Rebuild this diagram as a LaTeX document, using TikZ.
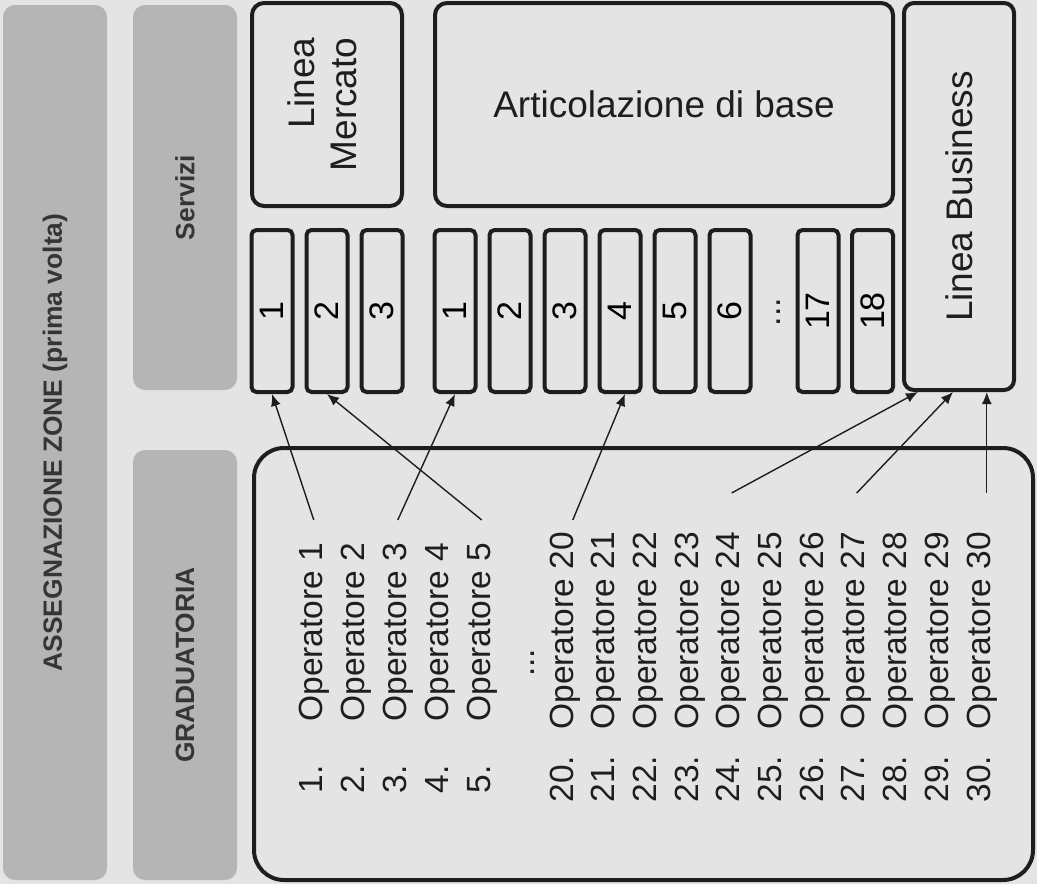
\documentclass[tikz,border=0pt]{standalone}
\usepackage{fontspec}
\setmainfont{Liberation Sans}
\usepackage{graphicx}
\usetikzlibrary{arrows.meta,calc}

\definecolor{paper}{RGB}{228,228,228}
\definecolor{panelgray}{RGB}{181,181,181}
\definecolor{ink}{RGB}{30,30,30}

\begin{document}
\begin{tikzpicture}[x=0.5pt,y=-0.5pt,
  panel/.style={fill=panelgray,rounded corners=6pt,inner sep=0pt,text=ink!90,
    font=\fontsize{13.2}{16}\selectfont\bfseries},
  frame/.style={draw=ink,line width=2pt,rounded corners=6pt,inner sep=0pt,text=ink},
  slot/.style={draw=ink,line width=2pt,rounded corners=2.5pt,inner sep=0pt,
    minimum width=20.5pt,minimum height=81pt,font=\fontsize{17}{20}\selectfont},
  optext/.style={rotate=90,anchor=base west,inner sep=0pt,text=ink,
    font=\fontsize{16.75}{20}\selectfont},
  arr/.style={-{Latex[length=6pt,width=5pt]},draw=ink,line width=0.7pt}]

% paper
\fill[paper] (0,0) rectangle (1037,884);
\useasboundingbox (0,0) rectangle (1037,884);

% grey headings
\node[panel,minimum width=52pt,minimum height=437.5pt] (assign) at (55,442.5)
  {\rotatebox{90}{ASSEGNAZIONE ZONE (prima volta)}};
\node[panel,minimum width=52pt,minimum height=192.5pt] (serv) at (185,197.5)
  {\rotatebox{90}{Servizi}};
\node[panel,minimum width=52pt,minimum height=215pt] (grad) at (185,665)
  {\rotatebox{90}{GRADUATORIA}};

% services
\node[frame,minimum width=75pt,minimum height=101.5pt,font=\fontsize{18.5}{21}\selectfont]
  (merc) at (327,104.5) {\rotatebox{90}{\begin{tabular}{@{}r@{}}Linea\\Mercato\end{tabular}}};
\node[frame,minimum width=229pt,minimum height=101.5pt,font=\fontsize{18.5}{22}\selectfont]
  (base) at (664,104.5) {Articolazione di base};
\node[frame,rounded corners=5pt,minimum width=55pt,minimum height=193.5pt,font=\fontsize{18.5}{22}\selectfont]
  (lb) at (959,196.5) {\rotatebox{90}{Linea Business}};

% zones
\foreach \i/\x in {1/272,2/327,3/382}
  \node[slot] (m\i) at (\x,311) {\rotatebox{90}{\i}};
\foreach \i/\x in {1/455,2/510,3/565,4/620,5/675,6/730,17/818,18/872.5}
  \node[slot] (b\i) at (\x,311) {\rotatebox{90}{\i}};
\node[optext,anchor=base,font=\fontsize{17}{20}\selectfont] (skip) at (780,312) {...};

% ranking
\node[frame,rounded corners=15pt,minimum width=389.5pt,minimum height=216pt] (list) at (643.5,664) {};
\foreach \k in {1,...,5}{
  \node[optext] (op\k) at ({322+(\k-1)*42},722) {Operatore \k};
  \node[optext] (n\k) at ({322+(\k-1)*42},794) {\k.};
}
\node[optext,anchor=base] (dots) at (534,663) {...};
\foreach \k in {20,...,30}{
  \node[optext] (op\k) at ({573+(\k-20)*41.7},730) {Operatore \k};
  \node[optext] (n\k) at ({573+(\k-20)*41.7},803) {\k.};
}

% assignments
\coordinate (up1) at (0,520);
\coordinate (up2) at (0,493);
\draw[arr] (op1.east |- up1) -- (m1.south);
\draw[arr] (op3.east |- up1) -- (b1.south);
\draw[arr] (op5.east |- up1) -- (m2.south);
\draw[arr] ($(op20.east |- up1)+(8,0)$) -- ($(b4.south)+(5,0)$);
\draw[arr] (op24.east |- up2) -- ($(lb.south)+(-41,0)$);
\draw[arr] (op27.east |- up2) -- ($(lb.south)+(-6,0)$);
\draw[arr] ($(op30.east |- up2)+(5,0)$) -- ($(op30.east |- lb.south)+(5,0)$);
\end{tikzpicture}
\end{document}
